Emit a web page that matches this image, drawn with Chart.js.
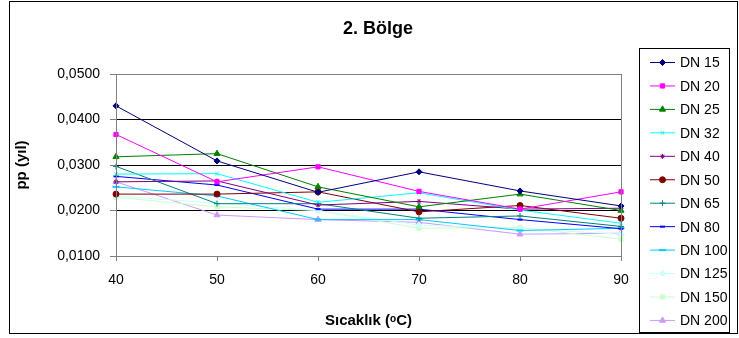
<!DOCTYPE html>
<html>
<head>
<meta charset="utf-8">
<script src="https://cdn.jsdelivr.net/npm/chart.js@4/dist/chart.umd.min.js"></script>
<style>
  body { margin: 0; background: #fff; }
</style>
</head>
<body>
<canvas id="bolgeChart" width="739" height="338"></canvas>
<script>
// Temperatures (°C) on the x axis
const temps = ['40', '50', '60', '70', '80', '90'];

// pp (yıl) per pipe diameter
const dn15  = [0.0430, 0.0309, 0.0240, 0.0285, 0.0243, 0.0210];
const dn20  = [0.0367, 0.0263, 0.0296, 0.0242, 0.0203, 0.0241];
const dn25  = [0.0318, 0.0325, 0.0252, 0.0208, 0.0236, 0.0200];
const dn32  = [0.0280, 0.0281, 0.0218, 0.0239, 0.0201, 0.0172];
const dn40  = [0.0263, 0.0265, 0.0212, 0.0220, 0.0203, 0.0205];
const dn50  = [0.0236, 0.0236, 0.0241, 0.0197, 0.0211, 0.0183];
const dn65  = [0.0297, 0.0215, 0.0215, 0.0183, 0.0188, 0.0165];
const dn80  = [0.0275, 0.0256, 0.0203, 0.0203, 0.0180, 0.0160];
const dn100 = [0.0252, 0.0232, 0.0180, 0.0180, 0.0156, 0.0161];
const dn125 = [0.0232, 0.0216, 0.0200, 0.0168, 0.0160, 0.0148];
const dn150 = [0.0229, 0.0208, 0.0200, 0.0161, 0.0163, 0.0137];
const dn200 = [0.0263, 0.0190, 0.0180, 0.0174, 0.0148, 0.0150];

const yTicks = [0.01, 0.02, 0.03, 0.04, 0.05];

const seriesNames = ['DN 15', 'DN 20', 'DN 25', 'DN 32', 'DN 40', 'DN 50',
                     'DN 65', 'DN 80', 'DN 100', 'DN 125', 'DN 150', 'DN 200'];
const seriesData = [dn15, dn20, dn25, dn32, dn40, dn50, dn65, dn80, dn100, dn125, dn150, dn200];

// Excel-ish colours and markers
const colors = ['#000080', '#FF00FF', '#008000', '#00FFFF', '#800080', '#800000',
                '#008080', '#0000FF', '#00CCFF', '#CCFFFF', '#CCFFCC', '#CC99FF'];
const markers = ['rectRot', 'rect', 'triangle', 'crossRot', 'star', 'circle',
                 'cross', 'line', 'line', 'rectRot', 'rect', 'triangle'];
const radii = [3, 3, 3.5, 2.5, 2.5, 3, 3, 2.5, 3.5, 3, 3, 3.5];

const FONT = 'Liberation Sans, Arial, sans-serif';

const datasets = seriesNames.map((name, i) => ({
    label: name,
    data: seriesData[i],
    borderColor: colors[i],
    backgroundColor: colors[i],
    borderWidth: 1,
    pointStyle: markers[i],
    pointRadius: radii[i],
    pointBorderWidth: (markers[i] === 'line' ? 2 : 1),
    pointBorderColor: colors[i],
    pointBackgroundColor: colors[i],
    tension: 0
}));

// Frame, plot border, title and the boxed legend (Excel style)
const excelDecor = {
    id: 'excelDecor',
    beforeDraw(chart) {
        const { ctx } = chart;
        ctx.save();
        ctx.fillStyle = '#fff';
        ctx.fillRect(0, 0, chart.width, chart.height);
        ctx.restore();
    },
    afterDraw(chart) {
        const { ctx, chartArea: a } = chart;
        ctx.save();
        // plot area border
        ctx.strokeStyle = '#808080';
        ctx.lineWidth = 1;
        ctx.strokeRect(a.left + 0.5, a.top + 0.5, a.right - a.left, a.bottom - a.top);
        // outer frame
        ctx.strokeStyle = '#000';
        ctx.strokeRect(9.5, 1.5, 728, 332);

        // title
        ctx.fillStyle = '#000';
        ctx.font = 'bold 18px ' + FONT;
        ctx.textAlign = 'center';
        ctx.textBaseline = 'middle';
        ctx.fillText('2. Bölge', 378, 29);

        // legend box
        ctx.strokeRect(639.5, 48.5, 90, 284);
        ctx.font = '14px ' + FONT;
        ctx.textAlign = 'left';
        seriesNames.forEach((name, i) => {
            const y = 62.5 + i * 23.45;
            ctx.strokeStyle = colors[i];
            ctx.fillStyle = colors[i];
            ctx.lineWidth = 1;
            ctx.beginPath();
            ctx.moveTo(650, y);
            ctx.lineTo(675, y);
            ctx.stroke();
            ctx.lineWidth = markers[i] === 'line' ? 2 : 1;
            Chart.helpers.drawPoint(ctx, {
                pointStyle: markers[i], radius: radii[i], rotation: 0,
                borderWidth: ctx.lineWidth
            }, 662.5, y);
            ctx.fillStyle = '#000';
            ctx.fillText(name, 680, y + 1);
        });
        ctx.restore();
    }
};

new Chart(document.getElementById('bolgeChart'), {
    type: 'line',
    data: { labels: temps, datasets },
    options: {
        responsive: false,
        animation: false,
        devicePixelRatio: 1,
        layout: { padding: { left: 0, right: 118, top: 74, bottom: 0 } },
        plugins: {
            legend: { display: false },
            title: { display: false },
            tooltip: { enabled: false }
        },
        scales: {
            x: {
                type: 'category',
                offset: false,
                afterFit: (s) => { s.height = 82; },
                grid: { drawOnChartArea: false, drawTicks: true, tickLength: 5, tickColor: '#808080' },
                border: { color: '#808080' },
                ticks: { color: '#000', font: { family: FONT, size: 14 }, padding: 11, maxRotation: 0 },
                title: {
                    display: true, text: 'Sıcaklık (ᵒC)', color: '#000',
                    font: { family: FONT, size: 15, weight: 'bold' },
                    padding: { top: 0, bottom: 8 }
                }
            },
            y: {
                min: 0.01,
                max: 0.05,
                afterFit: (s) => { s.width = 116; },
                afterBuildTicks: (s) => { s.ticks = yTicks.map(v => ({ value: v })); },
                grid: { color: '#000', lineWidth: 1, drawTicks: true, tickLength: 6, tickColor: '#808080' },
                border: { color: '#808080' },
                ticks: {
                    color: '#000', font: { family: FONT, size: 14 }, padding: 10,
                    callback: (v) => v.toFixed(4).replace('.', ',')
                },
                title: {
                    display: true, text: 'pp (yıl)', color: '#000',
                    font: { family: FONT, size: 15, weight: 'bold' },
                    padding: { top: 13, bottom: 0 }
                }
            }
        }
    },
    plugins: [excelDecor]
});
</script>
</body>
</html>
